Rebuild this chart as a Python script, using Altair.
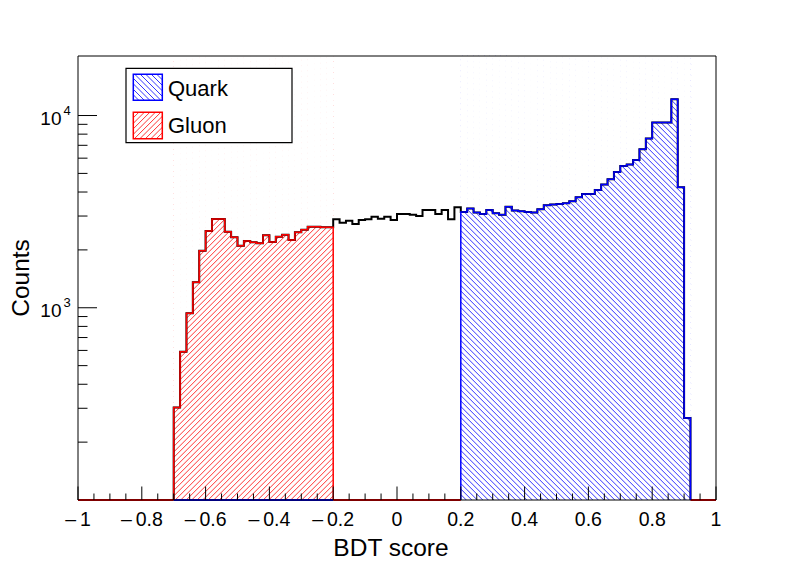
import altair as alt
import pandas as pd
import numpy as np

# ---------------- data ----------------
bin_width = 0.02
x_min, x_max = -1.0, 1.0
y_min, y_max = 100, 20400

series_names = ["Quark", "Gluon"]
series_colors = ["#0000ff", "#ff0000"]

gluon_start = -0.70
gluon_counts = [303, 590, 935, 1356, 1981, 2508, 2897, 2897, 2488, 2326, 2104, 2225, 2190,
                2165, 2384, 2199, 2343, 2400, 2252, 2470, 2549, 2642, 2642, 2622, 2622]

middle_start = -0.20
middle_counts = [2886, 2772, 2839, 2729, 2862, 2886, 2978, 2908, 2978, 2862, 3076, 3076, 3050,
                 3004, 3227, 3227, 3076, 3227, 2886, 3333]

quark_start = 0.20
quark_counts = [3152, 3279, 3126, 3076, 3227, 3101, 3050, 3358, 3202, 3177, 3152, 3126, 3254,
                3415, 3440, 3467, 3492, 3581, 3758, 3911, 3911, 4103, 4372, 4665, 5090, 5470,
                5556, 5877, 6683, 7590, 9194, 9194, 9194, 12170, 4238, 267]

x_major_ticks = [-1.0, -0.8, -0.6, -0.4, -0.2, 0.0, 0.2, 0.4, 0.6, 0.8, 1.0]
x_tick_labels = ["\u2013\u20091", "\u2013\u20090.8", "\u2013\u20090.6", "\u2013\u20090.4",
                 "\u2013\u20090.2", "0", "0.2", "0.4", "0.6", "0.8", "1"]
x_minor_ticks = [round(-1 + 0.05 * i, 2) for i in range(41) if i % 4 != 0]
y_major_ticks = [1000, 10000]
y_tick_base = ["10", "10"]
y_tick_exp = ["3", "4"]
y_minor_ticks = [200, 300, 400, 500, 600, 700, 800, 900,
                 2000, 3000, 4000, 5000, 6000, 7000, 8000, 9000]

x_title = "BDT score"
y_title = "Counts"

# ---------------- geometry ----------------
W, H = 638, 444
FONT = "Liberation Sans"
HATCH = 5.5
xs = alt.Scale(domain=[x_min, x_max], nice=False, zero=False)
ys = alt.Scale(type="log", domain=[y_min, y_max], nice=False)


def px_of(x):
    return (x - x_min) / (x_max - x_min) * W


def py_of(v):
    return H - H * (np.log10(v) - np.log10(y_min)) / (np.log10(y_max) - np.log10(y_min))


def hatch(xa, xb, ya, yb, spacing, direction):
    segs = []
    h = yb - ya
    if direction == "/":
        c = xa - h
        while c < xb:
            u0 = max(0.0, xa - c)
            u1 = min(h, xb - c)
            if u1 > u0:
                segs.append((c + u0, yb - u0, c + u1, yb - u1))
            c += spacing
    else:
        c = xa
        while c < xb + h:
            u0 = max(0.0, c - xb)
            u1 = min(h, c - xa)
            if u1 > u0:
                segs.append((c - u0, yb - u0, c - u1, yb - u1))
            c += spacing
    return segs


def step_rows(start, counts, name):
    rows = []
    n = len(counts)
    lo = start
    hi = start + n * bin_width
    rows.append((lo, y_min))
    for i, v in enumerate(counts):
        rows.append((start + i * bin_width, v))
        rows.append((start + (i + 1) * bin_width, v))
    rows.append((hi, y_min))
    return pd.DataFrame({"x": [r[0] for r in rows], "y": [r[1] for r in rows],
                         "o": list(range(len(rows))), "s": name})


def mask_rows(start, counts):
    return pd.DataFrame({
        "x": [start + i * bin_width for i in range(len(counts))],
        "x2": [start + (i + 1) * bin_width for i in range(len(counts))],
        "y": counts,
        "y2": [y_max] * len(counts),
    })


layers = []

# hatching of the two regions
g_lo, g_hi = gluon_start, gluon_start + len(gluon_counts) * bin_width
q_lo, q_hi = quark_start, quark_start + len(quark_counts) * bin_width
hsegs = []
for s in hatch(px_of(g_lo), px_of(g_hi), 0, H, HATCH, "/"):
    hsegs.append(s + (series_colors[1],))
for s in hatch(px_of(q_lo), px_of(q_hi), 0, H, HATCH, "\\"):
    hsegs.append(s + (series_colors[0],))
hdf = pd.DataFrame(hsegs, columns=["x", "y", "x2", "y2", "c"])
layers.append(alt.Chart(hdf).mark_rule(strokeWidth=0.8).encode(
    x=alt.X("x:Q", scale=None), y=alt.Y("y:Q", scale=None),
    x2="x2:Q", y2="y2:Q", color=alt.Color("c:N", scale=None)))

# white masks above histograms
mdf = pd.concat([mask_rows(gluon_start, gluon_counts), mask_rows(quark_start, quark_counts)])
layers.append(alt.Chart(mdf).mark_rect(fill="white", stroke="white", strokeWidth=0.6).encode(
    x=alt.X("x:Q", scale=xs, axis=None), x2="x2:Q",
    y=alt.Y("y:Q", scale=ys, axis=None), y2="y2:Q"))

# bottom (empty-bin) lines
bdf = pd.DataFrame({
    "x": [x_min, middle_start, q_hi, g_lo],
    "x2": [g_lo, quark_start, x_max, g_hi],
    "c": [series_colors[1], series_colors[1], series_colors[1], series_colors[0]],
})
layers.append(alt.Chart(bdf).mark_rule(strokeWidth=2).encode(
    x=alt.X("x:Q", scale=xs, axis=None), x2="x2:Q", y=alt.value(H),
    color=alt.Color("c:N", scale=None)))

# total (black) line
tdf = step_rows(gluon_start, gluon_counts + middle_counts + quark_counts, "total")
layers.append(alt.Chart(tdf).mark_line(color="black", strokeWidth=2).encode(
    x=alt.X("x:Q", scale=xs, axis=None), y=alt.Y("y:Q", scale=ys, axis=None), order="o:Q"))

gdf = step_rows(gluon_start, gluon_counts, series_names[1])
layers.append(alt.Chart(gdf).mark_line(color=series_colors[1], strokeWidth=1.5).encode(
    x=alt.X("x:Q", scale=xs, axis=None), y=alt.Y("y:Q", scale=ys, axis=None), order="o:Q"))
qdf = step_rows(quark_start, quark_counts, series_names[0])
layers.append(alt.Chart(qdf).mark_line(color=series_colors[0], strokeWidth=1.5).encode(
    x=alt.X("x:Q", scale=xs, axis=None), y=alt.Y("y:Q", scale=ys, axis=None), order="o:Q"))

# ticks (drawn inward, in pixel space from the same scale mapping)
xt_vals = x_major_ticks + x_minor_ticks
xt_len = [13.5] * len(x_major_ticks) + [6.5] * len(x_minor_ticks)
xt = pd.DataFrame({"px": [px_of(v) for v in xt_vals],
                   "bot": [H] * len(xt_vals),
                   "top": [H - l for l in xt_len]})
layers.append(alt.Chart(xt).mark_rule(color="black", strokeWidth=1).encode(
    x=alt.X("px:Q", scale=None), y=alt.Y("bot:Q", scale=None), y2="top:Q"))

yt_vals = y_major_ticks + y_minor_ticks
yt_len = [19] * len(y_major_ticks) + [9.5] * len(y_minor_ticks)
yt = pd.DataFrame({"py": [py_of(v) for v in yt_vals],
                   "x0": [0] * len(yt_vals), "x1": yt_len})
layers.append(alt.Chart(yt).mark_rule(color="black", strokeWidth=1).encode(
    y=alt.Y("py:Q", scale=None), x=alt.X("x0:Q", scale=None), x2="x1:Q"))

# frame
fr = pd.DataFrame({"x": [0], "x2": [W], "y": [0], "y2": [H]})
layers.append(alt.Chart(fr).mark_rect(fillOpacity=0, stroke="black", strokeWidth=1).encode(
    x=alt.X("x:Q", scale=None), x2="x2:Q", y=alt.Y("y:Q", scale=None), y2="y2:Q"))

# tick labels
xl = pd.DataFrame({"x": x_major_ticks, "t": x_tick_labels})
layers.append(alt.Chart(xl).mark_text(font=FONT, fontSize=19.5, align="center", baseline="alphabetic",
                                      color="black").encode(
    x=alt.X("x:Q", scale=xs, axis=None), y=alt.value(470), text="t:N"))
yl = pd.DataFrame({"y": y_major_ticks, "b": y_tick_base, "e": y_tick_exp})
layers.append(alt.Chart(yl).mark_text(font=FONT, fontSize=19, align="right", baseline="alphabetic",
                                      dy=9, color="black").encode(
    y=alt.Y("y:Q", scale=ys, axis=None), x=alt.value(-16.5), text="b:N"))
layers.append(alt.Chart(yl).mark_text(font=FONT, fontSize=13, align="left", baseline="alphabetic",
                                      dy=-0.5, color="black").encode(
    y=alt.Y("y:Q", scale=ys, axis=None), x=alt.value(-14.5), text="e:N"))

# axis titles
layers.append(alt.Chart(pd.DataFrame({"t": [x_title]})).mark_text(
    font=FONT, fontSize=24.5, align="center", baseline="alphabetic", color="black").encode(
    x=alt.value(313), y=alt.value(500), text="t:N"))
layers.append(alt.Chart(pd.DataFrame({"t": [y_title]})).mark_text(
    font=FONT, fontSize=24.5, align="center", baseline="alphabetic", angle=270, color="black").encode(
    x=alt.value(-49), y=alt.value(222), text="t:N"))

# legend
lb = pd.DataFrame({"x": [48], "x2": [214], "y": [12.3], "y2": [86.7]})
layers.append(alt.Chart(lb).mark_rect(fill="white", stroke="black", strokeWidth=1.2).encode(
    x=alt.X("x:Q", scale=None), x2="x2:Q", y=alt.Y("y:Q", scale=None), y2="y2:Q"))
sw = [(55.3, 84.3, 18.3, 44.3), (55.3, 84.3, 56.3, 82.7)]
lsegs = []
for s in hatch(sw[0][0], sw[0][1], sw[0][2], sw[0][3], HATCH, "\\"):
    lsegs.append(s + (series_colors[0],))
for s in hatch(sw[1][0], sw[1][1], sw[1][2], sw[1][3], HATCH, "/"):
    lsegs.append(s + (series_colors[1],))
ldf = pd.DataFrame(lsegs, columns=["x", "y", "x2", "y2", "c"])
layers.append(alt.Chart(ldf).mark_rule(strokeWidth=0.8).encode(
    x=alt.X("x:Q", scale=None), y=alt.Y("y:Q", scale=None),
    x2="x2:Q", y2="y2:Q", color=alt.Color("c:N", scale=None)))
sdf = pd.DataFrame({"x": [sw[0][0], sw[1][0]], "x2": [sw[0][1], sw[1][1]],
                    "y": [sw[0][2], sw[1][2]], "y2": [sw[0][3], sw[1][3]],
                    "c": series_colors})
layers.append(alt.Chart(sdf).mark_rect(fillOpacity=0, strokeWidth=1.5).encode(
    x=alt.X("x:Q", scale=None), x2="x2:Q", y=alt.Y("y:Q", scale=None), y2="y2:Q",
    stroke=alt.Stroke("c:N", scale=None)))
ltxt = pd.DataFrame({"t": series_names, "y": [40, 77.3]})
layers.append(alt.Chart(ltxt).mark_text(font=FONT, fontSize=22, align="left", baseline="alphabetic",
                                        color="black").encode(
    x=alt.value(90), y=alt.Y("y:Q", scale=None), text="t:N"))

chart = alt.layer(*layers).properties(
    width=W, height=H,
    autosize=alt.AutoSizeParams(type="none"),
    padding={"left": 70, "top": 48, "right": 60, "bottom": 60},
    background="white",
).configure_view(strokeWidth=0)

chart.save("out.html", embed_options={"renderer": "svg", "actions": False})
